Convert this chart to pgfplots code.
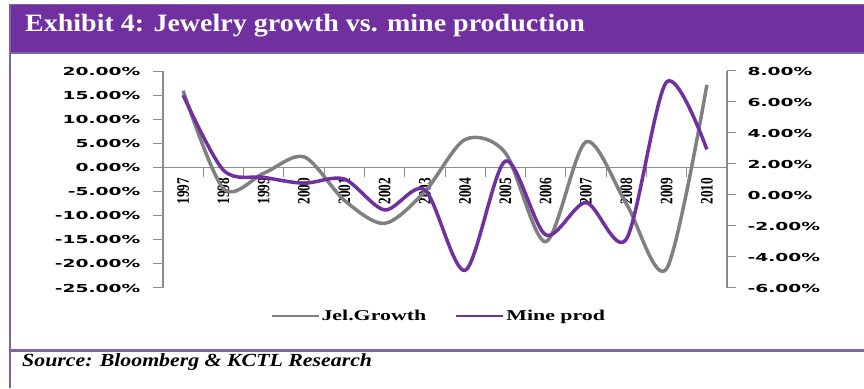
\documentclass[border=0pt]{standalone}
\usepackage{pgfplots}
\pgfplotsset{compat=1.18}
\usepackage{fontspec}
\setmainfont{Liberation Serif}
\newfontfamily\tickfont[FakeStretch=1.7]{DejaVu Sans}
\newfontfamily\xfont[FakeStretch=0.76]{Liberation Serif}
\newfontfamily\legfont[FakeStretch=1.46]{Liberation Serif}
\newfontfamily\titlefont[FakeStretch=1.12]{Liberation Serif}
\newfontfamily\srcfont[FakeStretch=1.18]{Liberation Serif}
\definecolor{band}{HTML}{7030A0}
\definecolor{frame}{HTML}{8064A2}
\definecolor{jel}{HTML}{808080}
\definecolor{mine}{HTML}{7030A0}
\definecolor{axisgray}{HTML}{8C8C8C}
\pgfplotstableread{
idx jel mine
0 15.9 6.44
1 -4.4 1.60
2 -1.2 1.14
3 2.2 0.76
4 -6.8 1.03
5 -11.6 -0.96
6 -5.0 0.33
7 5.8 -4.86
8 3.0 2.19
9 -15.4 -2.57
10 5.3 -0.49
11 -7.5 -2.85
12 -21.0 7.29
13 17.1 2.94
}\datatable
\begin{document}
\begin{tikzpicture}[x=1pt,y=1pt]
\useasboundingbox (0,0) rectangle (864,388);
\fill[white] (0,0) rectangle (864,388);
\fill[frame] (9,334) rectangle (864,384);
\fill[band] (11,336) rectangle (864,383);
\node[anchor=base west, text=white, inner sep=0pt, font=\titlefont\bfseries\fontsize{25}{28}\selectfont] at (25,356.3) {Exhibit 4: Jewelry growth vs. mine production};
\fill[frame] (9,0) rectangle (11,334);
\fill[frame] (9,36) rectangle (864,39);
\node[anchor=base west, inner sep=0pt, font=\srcfont\bfseries\itshape\fontsize{18.5}{20}\selectfont] at (22,21.3) {Source: Bloomberg \& KCTL Research};
\begin{axis}[
  at={(163pt,100pt)}, anchor=south west, scale only axis,
  width=564pt, height=217pt,
  xmin=-0.5, xmax=13.5, ymin=-25, ymax=20,
  axis x line=middle, axis y line=left,
  axis line style={-, draw=axisgray, line width=1.2pt},
  tick style={draw=axisgray, line width=1pt},
  tick align=outside, major tick length=10pt,
  ytick={-25,-20,...,20},
  yticklabel={\pgfmathprintnumber[fixed,fixed zerofill,precision=2,assume math mode=true]{\tick}\%},
  yticklabel style={font=\tickfont\bfseries\fontsize{11}{12}\selectfont, text=black},
  yticklabel shift=9pt,
  xtick={0.5,1.5,...,12.5}, xticklabels={},
  extra x ticks={0,1,...,13},
  extra x tick labels={1997,1998,1999,2000,2001,2002,2003,2004,2005,2006,2007,2008,2009,2010},
  extra x tick style={major tick length=0pt, tick label style={rotate=90, anchor=east, font=\xfont\bfseries\fontsize{17.5}{18}\selectfont, text=black}},
  xticklabel shift=7pt,
  clip=false,
]
\addplot[jel, line width=3.5pt, smooth, tension=0.5] table[x=idx, y=jel] {\datatable};
\end{axis}
\begin{axis}[
  at={(163pt,100pt)}, anchor=south west, scale only axis,
  width=564pt, height=217pt,
  xmin=-0.5, xmax=13.5, ymin=-6, ymax=8,
  axis x line=none, axis y line=right,
  axis line style={-, draw=axisgray, line width=1.2pt},
  tick style={draw=axisgray, line width=1pt},
  tick align=outside, major tick length=9pt,
  ytick={-6,-4,...,8},
  yticklabel={\pgfmathprintnumber[fixed,fixed zerofill,precision=2,assume math mode=true]{\tick}\%},
  yticklabel style={font=\tickfont\bfseries\fontsize{11}{12}\selectfont, text=black},
  yticklabel shift=8pt,
  clip=false,
  legend columns=2,
  legend style={at={(0.489,-0.128)}, anchor=center, draw=none, fill=none,
    font=\legfont\bfseries\fontsize{15}{16}\selectfont,
    /tikz/every even column/.append style={column sep=27pt}},
  legend image code/.code={\draw[#1, line width=2pt] (0pt,0pt) -- (47pt,0pt);},
]
\addlegendimage{jel}
\addlegendentry{Jel.Growth}
\addplot[mine, line width=3.5pt, smooth, tension=0.5] table[x=idx, y=mine] {\datatable};
\addlegendentry{Mine prod}
\end{axis}
\end{tikzpicture}
\end{document}
